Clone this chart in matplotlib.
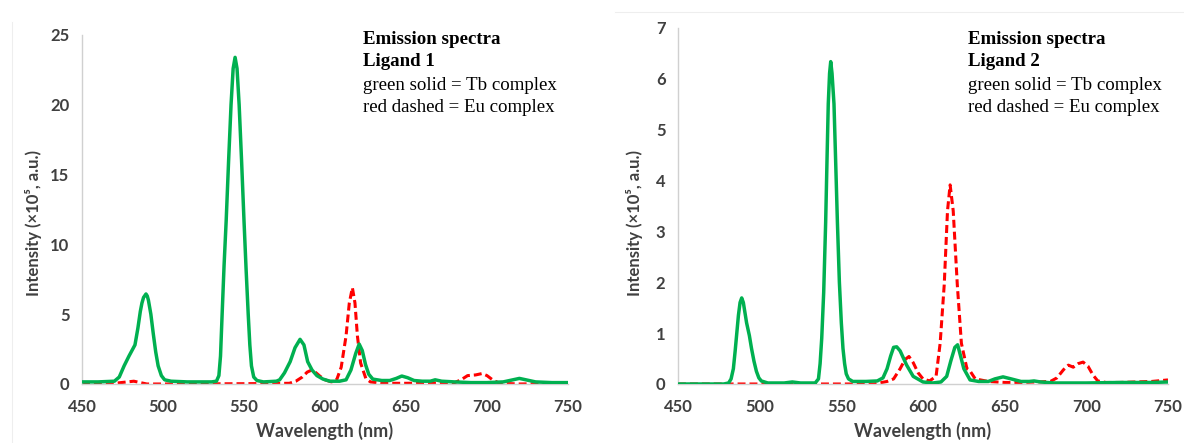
import matplotlib
matplotlib.use("Agg")
from matplotlib import pyplot as plt
from matplotlib.lines import Line2D

# Ligand 1 - Tb complex (green solid)
wl_tb1 = [450, 460, 470, 473, 476, 479, 482.7, 484.5, 486, 487, 488, 489.5, 490.3, 491, 492.5,
          494, 495.5, 497, 499, 501, 505, 515, 525, 530, 533, 534.5, 535.5, 536.5, 537.7, 539,
          540.5, 542, 543.3, 544.5, 545.7, 547, 548.5, 550, 551.3, 552.6, 553.6, 554.6, 556, 558,
          562, 570, 572, 575, 578.5, 581.5, 584.6, 587, 589.3, 592, 595, 598.8, 603, 609, 613,
          616, 619, 621.1, 623, 625, 627, 629.5, 635, 640, 644, 647.4, 651, 655, 660, 665, 668,
          672, 680, 690, 700, 710, 716, 720, 724, 730, 740, 750]
int_tb1 = [0.15, 0.15, 0.2, 0.5, 1.3, 2.0, 2.8, 4.0, 5.2, 5.8, 6.2, 6.45, 6.3, 6.0, 5.0,
           3.6, 2.3, 1.3, 0.6, 0.3, 0.2, 0.15, 0.15, 0.15, 0.2, 0.6, 2.0, 5.0, 8.5, 11.7,
           16.0, 20.0, 22.6, 23.4, 22.6, 20.0, 16.0, 11.7, 8.2, 5.0, 2.8, 1.3, 0.5, 0.25,
           0.15, 0.2, 0.3, 0.8, 1.6, 2.6, 3.2, 2.8, 1.6, 1.0, 0.6, 0.35, 0.2, 0.2, 0.3,
           1.0, 2.2, 2.86, 2.4, 1.4, 0.7, 0.35, 0.25, 0.25, 0.4, 0.57, 0.45, 0.25, 0.2, 0.2, 0.3,
           0.2, 0.15, 0.1, 0.1, 0.15, 0.3, 0.4, 0.3, 0.15, 0.1, 0.1]

# Ligand 1 - Eu complex (red dashed)
wl_eu1 = [450, 470, 478, 482, 486, 490, 500, 550, 578, 582, 586, 589, 591.8, 594, 597, 600,
          604, 607.2, 610, 613, 615, 616.9, 618.5, 620, 622, 625.2, 628, 635, 650, 680, 684,
          688, 693, 697, 700, 704, 708, 720, 750]
int_eu1 = [0.0, 0.05, 0.15, 0.2, 0.1, 0.0, 0.0, 0.02, 0.05, 0.2, 0.5, 0.85, 1.0, 0.85, 0.55, 0.3,
           0.15, 0.3, 1.2, 3.45, 5.8, 6.9, 5.8, 3.45, 1.5, 0.4, 0.15, 0.05, 0.05, 0.1, 0.3,
           0.6, 0.65, 0.75, 0.6, 0.25, 0.05, 0.0, 0.05]

# Ligand 2 - Tb complex
wl_tb2 = [450, 478, 481, 482.5, 483.9, 485, 486, 487, 488, 489, 490, 491, 492, 493.7, 495,
          496.5, 498, 499.5, 501, 505, 515, 520, 525, 534, 536, 537, 538, 539.2, 540.4, 541.3,
          542, 542.8, 543.5, 544.3, 545.5, 546.5, 547.6, 548.8, 550, 551, 552, 553, 554.4, 557,
          565, 572, 575.5, 578, 580.2, 582, 583.9, 586, 590, 594, 600, 606, 611, 614.5, 617,
          619.5, 621.2, 623, 625, 628.8, 634, 640, 644, 649, 654, 660, 665, 668, 672, 680, 700,
          720, 740, 750]
int_tb2 = [0.0, 0.0, 0.02, 0.1, 0.3, 0.65, 1.0, 1.35, 1.6, 1.69, 1.6, 1.4, 1.2, 0.95, 0.7,
           0.45, 0.25, 0.12, 0.06, 0.02, 0.02, 0.04, 0.02, 0.02, 0.1, 0.4, 0.9, 1.8, 3.17, 4.5,
           5.5, 6.1, 6.33, 6.1, 5.5, 4.4, 3.17, 2.0, 1.2, 0.7, 0.4, 0.2, 0.1, 0.05,
           0.05, 0.06, 0.12, 0.3, 0.55, 0.72, 0.73, 0.65, 0.37, 0.15, 0.04, 0.02, 0.04, 0.15, 0.45,
           0.72, 0.77, 0.55, 0.3, 0.08, 0.05, 0.05, 0.1, 0.14, 0.1, 0.05, 0.05, 0.06, 0.04, 0.02, 0.02,
           0.03, 0.03, 0.04]

# Ligand 2 - Eu complex
wl_eu2 = [450, 570, 578, 582, 586, 589, 591.4, 594, 597, 600, 604, 608, 610.5, 613, 615,
          616.6, 618.5, 621, 623.5, 626.9, 628.5, 632, 640, 650, 660, 670, 678, 682, 686, 689,
          692, 695, 698, 701, 704, 707, 712, 720, 740, 750]
int_eu2 = [0.0, 0.0, 0.05, 0.1, 0.3, 0.48, 0.54, 0.42, 0.22, 0.1, 0.06, 0.15, 0.8, 1.95, 3.4,
           3.91, 3.4, 1.95, 0.8, 0.3, 0.27, 0.1, 0.05, 0.03, 0.03, 0.04, 0.05, 0.12, 0.28, 0.37,
           0.33, 0.4, 0.43, 0.35, 0.18, 0.06, 0.03, 0.03, 0.05, 0.08]

xticks = [450, 500, 550, 600, 650, 700, 750]

green = "#00B050"
red = "#FF0000"
gray = "#404040"
sans = ["Lato", "DejaVu Sans"]
serif = ["Liberation Serif", "DejaVu Serif"]

fig = plt.figure(figsize=(11.84, 4.43), dpi=100)
W, H = 1184, 443

# faint borders of the two source images
fig.add_artist(Line2D([12 / W, 12 / W], [0, 1 - 22 / H], color="#EEEEEE", lw=0.8))
fig.add_artist(Line2D([615 / W, 1], [1 - 12 / H, 1 - 12 / H], color="#EEEEEE", lw=0.8))

panels = [
    (82, 568, 35, 384, 25, range(0, 26, 5), wl_tb1, int_tb1, wl_eu1, int_eu1, "Ligand 1", 363, 42),
    (678, 1168, 27.5, 384, 7, range(0, 8), wl_tb2, int_tb2, wl_eu2, int_eu2, "Ligand 2", 968, 643),
]

for x0, x1, ytop, ybot, ymax, yt, wt, it, we, ie, lig, tx, ylab_px in panels:
    ax = fig.add_axes([x0 / W, (H - ybot) / H, (x1 - x0) / W, (ybot - ytop) / H])
    ax.plot(we, ie, color=red, lw=2.2, ls=(0, (2.6, 1.3)), zorder=2)
    ax.plot(wt, it, color=green, lw=2.5, zorder=3)
    ax.set_xlim(450, 750)
    ax.set_ylim(0, ymax)
    ax.set_xticks(xticks)
    ax.set_yticks(list(yt))
    for s in ["top", "right"]:
        ax.spines[s].set_visible(False)
    for s in ["left", "bottom"]:
        ax.spines[s].set_color("#D0D0D0")
        ax.spines[s].set_linewidth(1.0)
    ax.tick_params(length=0, labelsize=12, labelcolor=gray)
    ax.tick_params(axis="x", pad=11)
    ax.tick_params(axis="y", pad=9)
    for lab in ax.get_xticklabels() + ax.get_yticklabels():
        lab.set_family(sans)
        lab.set_fontweight("bold")
    ax.set_xlabel("Wavelength (nm)", fontsize=13, fontweight="bold", color=gray, family=sans)
    ax.xaxis.set_label_coords(0.5, (ybot - 422) / (ybot - ytop))
    ax.set_ylabel("Intensity (×10⁵, a.u.)", fontsize=12, fontweight="bold", color=gray,
                  family=sans)
    ax.yaxis.set_label_coords((ylab_px - x0) / (x1 - x0), (ybot - 223) / (ybot - ytop))
    ax.patch.set_alpha(0)

    lines = [("Emission spectra", "bold", 44), (lig, "bold", 66.5),
             ("green solid = Tb complex", "normal", 89.5), ("red dashed = Eu complex", "normal", 112)]
    for txt, wgt, base in lines:
        fig.text(tx / W, 1 - base / H, txt, fontsize=13.6, fontweight=wgt, family=serif,
                 va="baseline", ha="left")

fig.savefig("out.png", dpi=100)
